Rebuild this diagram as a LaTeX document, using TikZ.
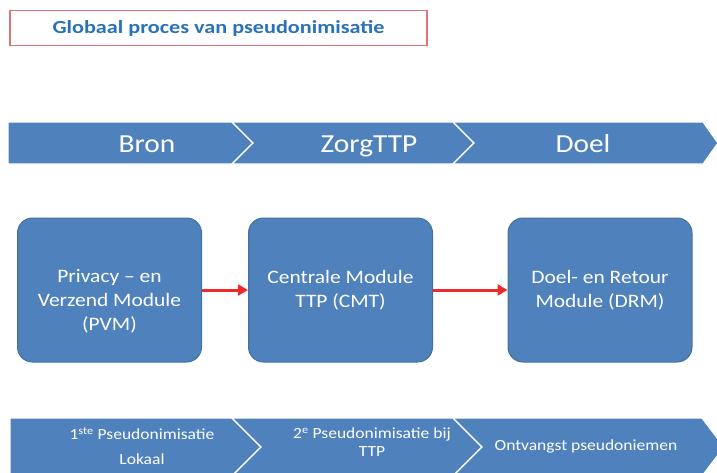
\documentclass[tikz,border=0pt]{standalone}
\usepackage{fontspec}
\setmainfont{Carlito}
\newfontfamily\wide[FakeStretch=1.13]{Carlito}
\newfontfamily\wider[FakeStretch=1.2]{Carlito}
\usetikzlibrary{arrows.meta,positioning}
\definecolor{ofblue}{HTML}{4F81BD}
\definecolor{ofedge}{HTML}{41719C}
\definecolor{titleblue}{HTML}{2A72B8}
\definecolor{titlered}{HTML}{E0707C}
\definecolor{flowred}{HTML}{EE2A2A}

\begin{document}
\begin{tikzpicture}[x=1pt,y=-1pt,
  bar/.style={fill=ofblue, draw=white, line width=1.2pt},
  barlabel/.style={anchor=base, text=white, font=\wide\fontsize{26}{30}\selectfont},
  steplabel/.style={text=white, align=center, font=\wide\fontsize{15.5}{18}\selectfont},
  module/.style={draw=ofedge, line width=1pt, fill=ofblue, rounded corners=15pt,
    minimum width=184pt, minimum height=144pt},
  modtext/.style={text=white, align=center, font=\wide\fontsize{19}{24}\selectfont},
  flow/.style={-{Triangle[length=10pt,width=11pt]}, line width=3pt, flowred}]

\useasboundingbox (0,0) rectangle (717,472);

% Title
\node[draw=titlered, line width=1.3pt, minimum width=417pt, minimum height=35pt,
  text=titleblue, font=\wider\bfseries\fontsize{18.5}{22}\selectfont]
  (title) at (218.5,28) {Globaal proces van pseudonimisatie};

% Top chevron bar
\foreach \xl/\xr/\dl/\dr in {8/232/0/21, 232/453/21/21, 453/703/21/15} {
  \filldraw[bar] (\xl,122) -- (\xr,122) -- (\xr+\dr,143) -- (\xr,164)
    -- (\xl,164) -- (\xl+\dl,143) -- cycle;
}
\node[barlabel] (bron) at (147,152) {Bron};
\node[barlabel] (zorgttp) at (369,152) {ZorgTTP};
\node[barlabel] (doel) at (583,152) {Doel};

% Modules
\node[module, label={[modtext, yshift=-11pt]center:{Privacy – en\\Verzend Module\\(PVM)}}]
  (pvm) at (109.5,290) {};
\node[module, modtext] (cmt) at (340.5,290) {Centrale Module\\TTP (CMT)};
\node[module, modtext] (drm) at (600,290) {Doel- en Retour\\Module (DRM)};

\draw[flow] (pvm) -- (cmt);
\draw[flow] (cmt) -- (drm);

% Bottom chevron bar
\foreach \xl/\xr/\dl/\dr in {10/232/0/29, 232/453/29/29, 453/702/29/22} {
  \filldraw[bar] (\xl,418) -- (\xr,418) -- (\xr+\dr,447) -- (\xr,476)
    -- (\xl,476) -- (\xl+\dl,447) -- cycle;
}
\node[steplabel] (eerste) at (142,446) {1\textsuperscript{ste} Pseudonimisatie\\[7pt]Lokaal};
\node[steplabel] (tweede) at (372,442) {2\textsuperscript{e} Pseudonimisatie bij\\TTP};
\node[steplabel] (ontvangst) at (586,446) {Ontvangst pseudoniemen};

\end{tikzpicture}
\end{document}
